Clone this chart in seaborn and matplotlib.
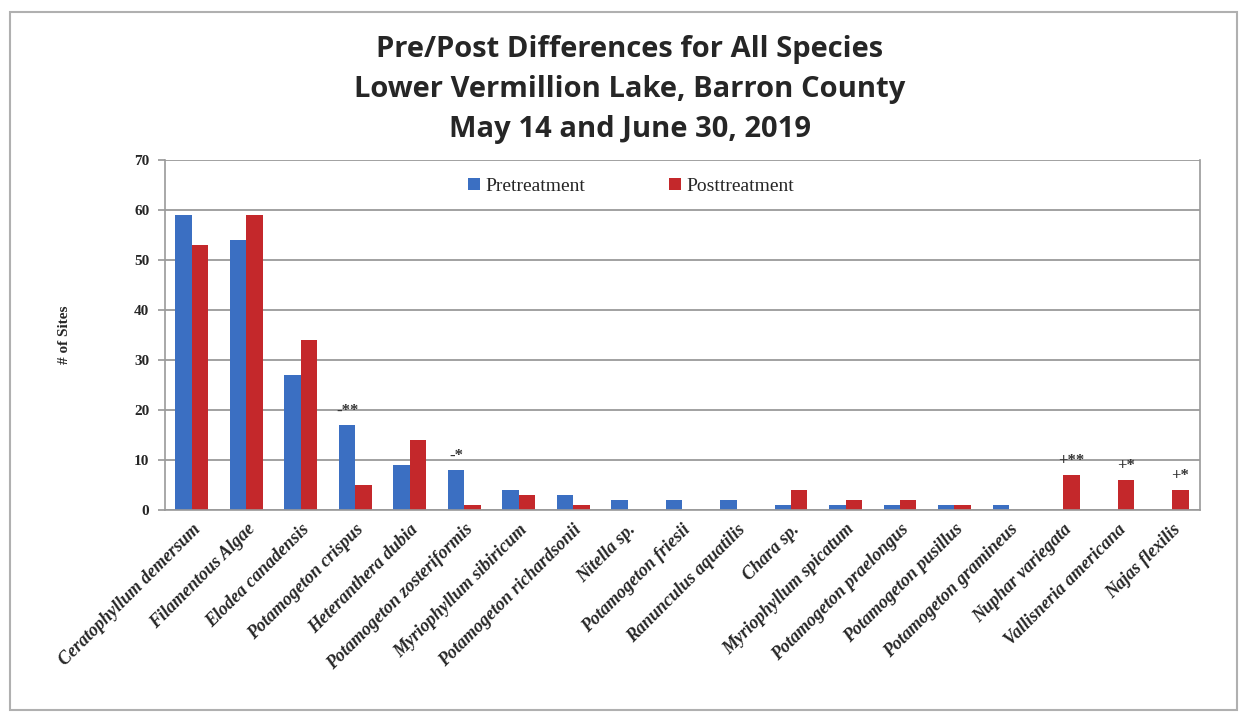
import matplotlib
matplotlib.use("Agg")
import matplotlib.pyplot as plt
import seaborn as sns
import pandas as pd

species = [
    "Ceratophyllum demersum", "Filamentous Algae", "Elodea canadensis",
    "Potamogeton crispus", "Heteranthera dubia", "Potamogeton zosteriformis",
    "Myriophyllum sibiricum", "Potamogeton richardsonii", "Nitella sp.",
    "Potamogeton friesii", "Ranunculus aquatilis", "Chara sp.",
    "Myriophyllum spicatum", "Potamogeton praelongus", "Potamogeton pusillus",
    "Potamogeton gramineus", "Nuphar variegata", "Vallisneria americana",
    "Najas flexilis",
]
pretreatment = [59, 54, 27, 17, 9, 8, 4, 3, 2, 2, 2, 1, 1, 1, 1, 1, 0, 0, 0]
posttreatment = [53, 59, 34, 5, 14, 1, 3, 1, 0, 0, 0, 4, 2, 2, 1, 0, 7, 6, 4]
# significance markers: (species, series, label)
markers = [
    ("Potamogeton crispus", "Pretreatment", "-**"),
    ("Potamogeton zosteriformis", "Pretreatment", "-*"),
    ("Nuphar variegata", "Posttreatment", "+**"),
    ("Vallisneria americana", "Posttreatment", "+*"),
    ("Najas flexilis", "Posttreatment", "+*"),
]

df = pd.DataFrame({
    "Species": species * 2,
    "Sites": pretreatment + posttreatment,
    "Period": ["Pretreatment"] * len(species) + ["Posttreatment"] * len(species),
})

sns.set_theme(style="white")
serif = ["Liberation Serif", "DejaVu Serif"]
title_font = ["Liberation Sans Narrow", "Open Sans", "DejaVu Sans"]

fig = plt.figure(figsize=(12.47, 7.21), dpi=100)
ax = fig.add_axes([0.132, 0.293, 0.83, 0.485])

sns.barplot(data=df, x="Species", y="Sites", hue="Period", ax=ax,
            palette={"Pretreatment": "#3b6fc2", "Posttreatment": "#c4282b"},
            width=0.6, saturation=1, gap=0, edgecolor="none")

ax.set_ylim(0, 70)
ax.set_yticks(range(0, 71, 10))
ax.yaxis.grid(True, color="#9a9a9a", linewidth=1.3)
ax.set_axisbelow(True)
for s in ["left", "bottom", "right"]:
    ax.spines[s].set_color("#9a9a9a")
    ax.spines[s].set_linewidth(1.2)
ax.spines["top"].set_visible(False)
ax.tick_params(axis="y", left=True, length=5, color="#9a9a9a", pad=6)
ax.tick_params(axis="x", bottom=False, pad=2)

for lbl in ax.get_yticklabels():
    lbl.set_family(serif)
    lbl.set_fontweight("bold")
    lbl.set_fontsize(11)
ax.set_xticks(range(len(species)))
ax.set_xticklabels(species, rotation=45, ha="right", rotation_mode="anchor",
                   family=serif, fontweight="bold", fontstyle="italic",
                   fontsize=13)
ax.set_xlabel("")
ax.set_ylabel("# of Sites", family=serif, fontweight="bold", fontsize=11,
              labelpad=45)

# significance labels above bars
for name, period, text in markers:
    i = species.index(name)
    if period == "Pretreatment":
        val = pretreatment[i]
        x = i - 0.15
    else:
        val = posttreatment[i]
        x = i + 0.15
    ax.text(x, val + 1.2, text, ha="center", va="bottom", fontsize=12,
            fontweight="bold", color="#333333", family=serif)

leg = ax.legend(loc="upper center", bbox_to_anchor=(0.451, 1.0), ncol=2,
                frameon=False, prop={"family": serif, "size": 14},
                handlelength=0.6, handleheight=0.6, columnspacing=4.3,
                handletextpad=0.3)

fig.text(0.505, 0.952, "Pre/Post Differences for All Species\n"
         "Lower Vermillion Lake, Barron County\nMay 14 and June 30, 2019",
         ha="center", va="top", family=title_font, fontweight="bold",
         fontsize=21, linespacing=1.52)

fig.add_artist(plt.Rectangle((0.008, 0.015), 0.984, 0.968,
                             transform=fig.transFigure, fill=False,
                             edgecolor="#b0b0b0", linewidth=1.5))

fig.savefig("out.png", dpi=100)
